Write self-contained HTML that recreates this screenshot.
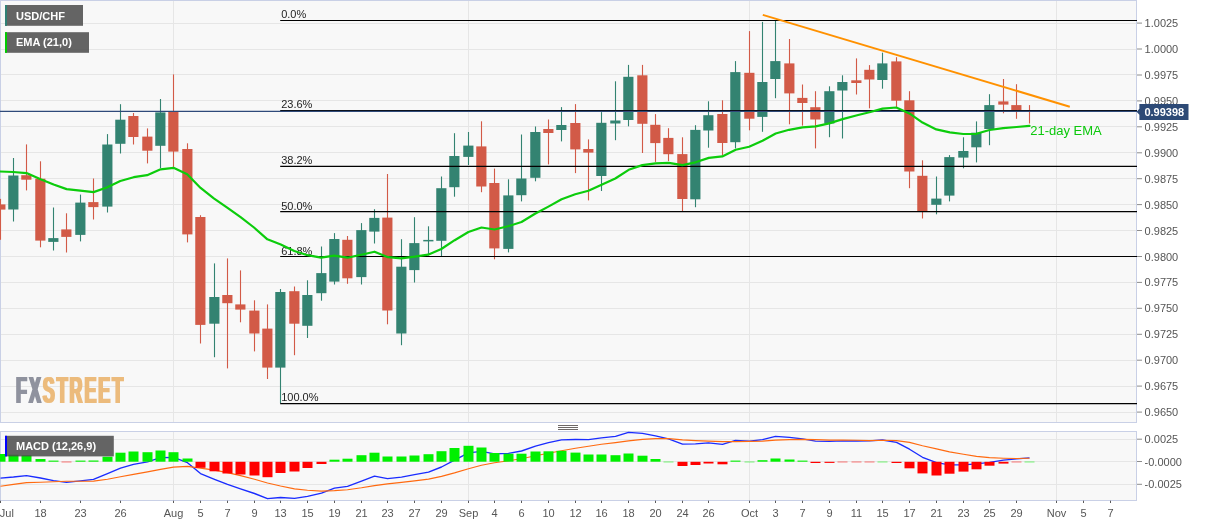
<!DOCTYPE html>
<html><head><meta charset="utf-8"><title>USD/CHF</title>
<style>
html,body{margin:0;padding:0;background:#fff;}
body{width:1207px;height:526px;overflow:hidden;font-family:"Liberation Sans",Arial,sans-serif;}
svg{display:block;}
svg text{font-family:"Liberation Sans",Arial,sans-serif;}
</style></head><body>
<svg width="1207" height="526" viewBox="0 0 1207 526">
<rect x="0" y="0" width="1207" height="526" fill="#ffffff"/>
<rect x="0.5" y="0.5" width="1136" height="422" fill="#f8f8f8" stroke="#c9d0e6" stroke-width="1"/>
<rect x="0.5" y="431.5" width="1136" height="69" fill="#f8f8f8" stroke="#c9d0e6" stroke-width="1"/>
<g stroke="#e6e6e6" stroke-width="1">
<line x1="1" y1="23.5" x2="1136" y2="23.5"/>
<line x1="1" y1="49.5" x2="1136" y2="49.5"/>
<line x1="1" y1="74.5" x2="1136" y2="74.5"/>
<line x1="1" y1="100.5" x2="1136" y2="100.5"/>
<line x1="1" y1="126.5" x2="1136" y2="126.5"/>
<line x1="1" y1="152.5" x2="1136" y2="152.5"/>
<line x1="1" y1="178.5" x2="1136" y2="178.5"/>
<line x1="1" y1="204.5" x2="1136" y2="204.5"/>
<line x1="1" y1="230.5" x2="1136" y2="230.5"/>
<line x1="1" y1="256.5" x2="1136" y2="256.5"/>
<line x1="1" y1="282.5" x2="1136" y2="282.5"/>
<line x1="1" y1="308.5" x2="1136" y2="308.5"/>
<line x1="1" y1="334.5" x2="1136" y2="334.5"/>
<line x1="1" y1="360.5" x2="1136" y2="360.5"/>
<line x1="1" y1="386.5" x2="1136" y2="386.5"/>
<line x1="1" y1="412.5" x2="1136" y2="412.5"/>
<line x1="1" y1="439.5" x2="1136" y2="439.5"/>
<line x1="1" y1="461.5" x2="1136" y2="461.5"/>
<line x1="1" y1="484.5" x2="1136" y2="484.5"/>
<line x1="173.5" y1="1" x2="173.5" y2="422"/>
<line x1="173.5" y1="432" x2="173.5" y2="500"/>
<line x1="468.5" y1="1" x2="468.5" y2="422"/>
<line x1="468.5" y1="432" x2="468.5" y2="500"/>
<line x1="749.5" y1="1" x2="749.5" y2="422"/>
<line x1="749.5" y1="432" x2="749.5" y2="500"/>
<line x1="1056.5" y1="1" x2="1056.5" y2="422"/>
<line x1="1056.5" y1="432" x2="1056.5" y2="500"/>
</g>
<defs><filter id="fat" x="-5%" y="-10%" width="110%" height="120%"><feMorphology operator="dilate" radius="1 0"/></filter></defs>
<g filter="url(#fat)"><text transform="translate(16,402.7) scale(0.49,1)" font-weight="bold" font-size="36.5px" letter-spacing="4" fill="#8f929e">FX<tspan fill="#ecbb7c">STREET</tspan></text></g>
<g>
<rect x="-0.05" y="198.9" width="1.1" height="40.9" fill="#d25a47"/><rect x="-4.75" y="204.4" width="10.2" height="5.2" fill="#d25a47"/>
<rect x="12.95" y="158.0" width="1.1" height="63.5" fill="#338371"/><rect x="8.25" y="175.5" width="10.2" height="34.0" fill="#338371"/>
<rect x="25.95" y="144.4" width="1.1" height="46.0" fill="#d25a47"/><rect x="21.25" y="175.2" width="10.2" height="4.5" fill="#d25a47"/>
<rect x="39.95" y="161.3" width="1.1" height="86.0" fill="#d25a47"/><rect x="35.25" y="178.7" width="10.2" height="61.9" fill="#d25a47"/>
<rect x="52.95" y="207.5" width="1.1" height="43.0" fill="#338371"/><rect x="48.25" y="238.1" width="10.2" height="3.8" fill="#338371"/>
<rect x="65.95" y="213.3" width="1.1" height="39.2" fill="#d25a47"/><rect x="61.25" y="229.4" width="10.2" height="7.5" fill="#d25a47"/>
<rect x="79.95" y="194.6" width="1.1" height="46.8" fill="#338371"/><rect x="75.25" y="202.6" width="10.2" height="32.3" fill="#338371"/>
<rect x="92.95" y="178.5" width="1.1" height="41.0" fill="#d25a47"/><rect x="88.25" y="202.1" width="10.2" height="5.0" fill="#d25a47"/>
<rect x="106.95" y="134.1" width="1.1" height="78.4" fill="#338371"/><rect x="102.25" y="144.5" width="10.2" height="62.1" fill="#338371"/>
<rect x="119.95" y="104.2" width="1.1" height="49.3" fill="#338371"/><rect x="115.25" y="119.7" width="10.2" height="24.1" fill="#338371"/>
<rect x="132.95" y="113.0" width="1.1" height="31.5" fill="#d25a47"/><rect x="128.25" y="116.0" width="10.2" height="21.0" fill="#d25a47"/>
<rect x="146.95" y="128.4" width="1.1" height="35.0" fill="#d25a47"/><rect x="142.25" y="136.6" width="10.2" height="14.1" fill="#d25a47"/>
<rect x="159.95" y="99.0" width="1.1" height="69.1" fill="#338371"/><rect x="155.25" y="112.4" width="10.2" height="33.4" fill="#338371"/>
<rect x="172.95" y="74.4" width="1.1" height="92.5" fill="#d25a47"/><rect x="168.25" y="111.7" width="10.2" height="39.9" fill="#d25a47"/>
<rect x="186.95" y="143.3" width="1.1" height="99.1" fill="#d25a47"/><rect x="182.25" y="149.0" width="10.2" height="85.4" fill="#d25a47"/>
<rect x="199.95" y="215.2" width="1.1" height="128.3" fill="#d25a47"/><rect x="195.25" y="217.0" width="10.2" height="107.9" fill="#d25a47"/>
<rect x="213.95" y="263.4" width="1.1" height="93.8" fill="#338371"/><rect x="209.25" y="297.0" width="10.2" height="26.7" fill="#338371"/>
<rect x="226.95" y="258.4" width="1.1" height="110.0" fill="#d25a47"/><rect x="222.25" y="295.0" width="10.2" height="8.2" fill="#d25a47"/>
<rect x="239.95" y="270.4" width="1.1" height="51.9" fill="#d25a47"/><rect x="235.25" y="304.4" width="10.2" height="5.2" fill="#d25a47"/>
<rect x="253.95" y="300.3" width="1.1" height="51.1" fill="#d25a47"/><rect x="249.25" y="310.6" width="10.2" height="22.9" fill="#d25a47"/>
<rect x="266.95" y="304.4" width="1.1" height="74.6" fill="#d25a47"/><rect x="262.25" y="328.6" width="10.2" height="39.0" fill="#d25a47"/>
<rect x="279.95" y="289.0" width="1.1" height="114.2" fill="#338371"/><rect x="275.25" y="292.0" width="10.2" height="75.6" fill="#338371"/>
<rect x="293.95" y="286.5" width="1.1" height="68.7" fill="#d25a47"/><rect x="289.25" y="291.2" width="10.2" height="32.5" fill="#d25a47"/>
<rect x="306.95" y="280.3" width="1.1" height="57.7" fill="#338371"/><rect x="302.25" y="295.0" width="10.2" height="30.8" fill="#338371"/>
<rect x="320.95" y="246.5" width="1.1" height="54.2" fill="#338371"/><rect x="316.25" y="273.1" width="10.2" height="20.1" fill="#338371"/>
<rect x="333.95" y="233.1" width="1.1" height="51.4" fill="#338371"/><rect x="329.25" y="239.0" width="10.2" height="42.6" fill="#338371"/>
<rect x="346.95" y="236.0" width="1.1" height="47.8" fill="#d25a47"/><rect x="342.25" y="239.8" width="10.2" height="38.5" fill="#d25a47"/>
<rect x="360.95" y="223.1" width="1.1" height="61.4" fill="#338371"/><rect x="356.25" y="230.1" width="10.2" height="47.0" fill="#338371"/>
<rect x="373.95" y="209.2" width="1.1" height="34.3" fill="#338371"/><rect x="369.25" y="217.9" width="10.2" height="13.7" fill="#338371"/>
<rect x="386.95" y="174.0" width="1.1" height="150.3" fill="#d25a47"/><rect x="382.25" y="217.6" width="10.2" height="92.9" fill="#d25a47"/>
<rect x="400.95" y="239.2" width="1.1" height="106.0" fill="#338371"/><rect x="396.25" y="266.7" width="10.2" height="66.8" fill="#338371"/>
<rect x="413.95" y="217.2" width="1.1" height="65.3" fill="#338371"/><rect x="409.25" y="243.1" width="10.2" height="27.0" fill="#338371"/>
<rect x="427.95" y="226.3" width="1.1" height="29.1" fill="#338371"/><rect x="423.25" y="239.9" width="10.2" height="1.5" fill="#338371"/>
<rect x="440.95" y="176.5" width="1.1" height="79.6" fill="#338371"/><rect x="436.25" y="188.2" width="10.2" height="52.6" fill="#338371"/>
<rect x="453.95" y="133.2" width="1.1" height="63.5" fill="#338371"/><rect x="449.25" y="156.0" width="10.2" height="31.2" fill="#338371"/>
<rect x="467.95" y="132.0" width="1.1" height="33.0" fill="#338371"/><rect x="463.25" y="145.6" width="10.2" height="11.3" fill="#338371"/>
<rect x="480.95" y="121.3" width="1.1" height="70.9" fill="#d25a47"/><rect x="476.25" y="146.4" width="10.2" height="40.1" fill="#d25a47"/>
<rect x="493.95" y="168.6" width="1.1" height="90.7" fill="#d25a47"/><rect x="489.25" y="183.0" width="10.2" height="65.4" fill="#d25a47"/>
<rect x="507.95" y="179.3" width="1.1" height="73.1" fill="#338371"/><rect x="503.25" y="195.4" width="10.2" height="53.5" fill="#338371"/>
<rect x="520.95" y="134.5" width="1.1" height="66.9" fill="#338371"/><rect x="516.25" y="178.5" width="10.2" height="16.7" fill="#338371"/>
<rect x="534.95" y="126.5" width="1.1" height="54.8" fill="#338371"/><rect x="530.25" y="132.0" width="10.2" height="45.8" fill="#338371"/>
<rect x="547.95" y="119.5" width="1.1" height="44.9" fill="#d25a47"/><rect x="543.25" y="129.0" width="10.2" height="4.0" fill="#d25a47"/>
<rect x="560.95" y="107.1" width="1.1" height="34.3" fill="#338371"/><rect x="556.25" y="125.0" width="10.2" height="5.0" fill="#338371"/>
<rect x="574.95" y="104.1" width="1.1" height="69.0" fill="#d25a47"/><rect x="570.25" y="123.0" width="10.2" height="26.4" fill="#d25a47"/>
<rect x="587.95" y="139.4" width="1.1" height="61.0" fill="#d25a47"/><rect x="583.25" y="149.0" width="10.2" height="3.6" fill="#d25a47"/>
<rect x="600.95" y="112.1" width="1.1" height="78.9" fill="#338371"/><rect x="596.25" y="122.8" width="10.2" height="53.2" fill="#338371"/>
<rect x="614.95" y="81.3" width="1.1" height="58.9" fill="#338371"/><rect x="610.25" y="120.5" width="10.2" height="3.0" fill="#338371"/>
<rect x="627.95" y="64.9" width="1.1" height="61.4" fill="#338371"/><rect x="623.25" y="76.8" width="10.2" height="43.2" fill="#338371"/>
<rect x="641.95" y="64.9" width="1.1" height="88.1" fill="#d25a47"/><rect x="637.25" y="75.3" width="10.2" height="48.5" fill="#d25a47"/>
<rect x="654.95" y="114.1" width="1.1" height="47.8" fill="#d25a47"/><rect x="650.25" y="124.8" width="10.2" height="18.3" fill="#d25a47"/>
<rect x="667.95" y="128.2" width="1.1" height="32.9" fill="#d25a47"/><rect x="663.25" y="137.9" width="10.2" height="16.3" fill="#d25a47"/>
<rect x="681.95" y="137.3" width="1.1" height="74.7" fill="#d25a47"/><rect x="677.25" y="154.1" width="10.2" height="44.9" fill="#d25a47"/>
<rect x="694.95" y="125.2" width="1.1" height="82.0" fill="#338371"/><rect x="690.25" y="129.9" width="10.2" height="69.4" fill="#338371"/>
<rect x="707.95" y="101.3" width="1.1" height="46.4" fill="#338371"/><rect x="703.25" y="115.2" width="10.2" height="15.3" fill="#338371"/>
<rect x="721.95" y="100.3" width="1.1" height="54.8" fill="#d25a47"/><rect x="717.25" y="114.0" width="10.2" height="29.0" fill="#d25a47"/>
<rect x="734.95" y="61.1" width="1.1" height="87.3" fill="#338371"/><rect x="730.25" y="72.1" width="10.2" height="70.1" fill="#338371"/>
<rect x="748.95" y="31.1" width="1.1" height="99.2" fill="#d25a47"/><rect x="744.25" y="72.8" width="10.2" height="45.9" fill="#d25a47"/>
<rect x="761.95" y="21.9" width="1.1" height="109.9" fill="#338371"/><rect x="757.25" y="82.0" width="10.2" height="34.9" fill="#338371"/>
<rect x="774.95" y="20.4" width="1.1" height="77.8" fill="#338371"/><rect x="770.25" y="61.1" width="10.2" height="17.9" fill="#338371"/>
<rect x="788.95" y="39.0" width="1.1" height="85.3" fill="#d25a47"/><rect x="784.25" y="63.4" width="10.2" height="30.0" fill="#d25a47"/>
<rect x="801.95" y="84.5" width="1.1" height="41.1" fill="#d25a47"/><rect x="797.25" y="97.9" width="10.2" height="5.1" fill="#d25a47"/>
<rect x="814.95" y="91.2" width="1.1" height="57.2" fill="#d25a47"/><rect x="810.25" y="107.2" width="10.2" height="12.3" fill="#d25a47"/>
<rect x="828.95" y="86.3" width="1.1" height="50.9" fill="#338371"/><rect x="824.25" y="91.2" width="10.2" height="32.3" fill="#338371"/>
<rect x="841.95" y="75.3" width="1.1" height="63.2" fill="#338371"/><rect x="837.25" y="82.0" width="10.2" height="8.5" fill="#338371"/>
<rect x="855.95" y="58.4" width="1.1" height="36.1" fill="#d25a47"/><rect x="851.25" y="80.3" width="10.2" height="2.7" fill="#d25a47"/>
<rect x="868.95" y="65.1" width="1.1" height="43.2" fill="#d25a47"/><rect x="864.25" y="69.8" width="10.2" height="9.7" fill="#d25a47"/>
<rect x="881.95" y="52.7" width="1.1" height="36.0" fill="#338371"/><rect x="877.25" y="63.4" width="10.2" height="16.6" fill="#338371"/>
<rect x="895.95" y="57.2" width="1.1" height="49.7" fill="#d25a47"/><rect x="891.25" y="61.4" width="10.2" height="39.3" fill="#d25a47"/>
<rect x="908.95" y="91.2" width="1.1" height="97.0" fill="#d25a47"/><rect x="904.25" y="100.3" width="10.2" height="71.2" fill="#d25a47"/>
<rect x="921.95" y="160.3" width="1.1" height="58.2" fill="#d25a47"/><rect x="917.25" y="175.8" width="10.2" height="35.2" fill="#d25a47"/>
<rect x="935.95" y="176.5" width="1.1" height="37.8" fill="#338371"/><rect x="931.25" y="198.6" width="10.2" height="6.2" fill="#338371"/>
<rect x="948.95" y="155.1" width="1.1" height="46.3" fill="#338371"/><rect x="944.25" y="157.1" width="10.2" height="38.5" fill="#338371"/>
<rect x="962.95" y="137.3" width="1.1" height="31.0" fill="#338371"/><rect x="958.25" y="151.0" width="10.2" height="6.6" fill="#338371"/>
<rect x="975.95" y="121.4" width="1.1" height="41.0" fill="#338371"/><rect x="971.25" y="132.7" width="10.2" height="14.6" fill="#338371"/>
<rect x="988.95" y="94.2" width="1.1" height="51.0" fill="#338371"/><rect x="984.25" y="105.1" width="10.2" height="23.9" fill="#338371"/>
<rect x="1002.95" y="79.0" width="1.1" height="34.3" fill="#d25a47"/><rect x="998.25" y="101.4" width="10.2" height="3.2" fill="#d25a47"/>
<rect x="1015.95" y="84.2" width="1.1" height="34.6" fill="#d25a47"/><rect x="1011.25" y="105.1" width="10.2" height="4.9" fill="#d25a47"/>
<rect x="1028.95" y="105.1" width="1.1" height="18.4" fill="#d25a47"/><rect x="1024.25" y="110.4" width="10.2" height="0.8" fill="#d25a47"/>
</g>
<g stroke="#000" stroke-width="1.2">
<line x1="280.2" y1="20.5" x2="1137" y2="20.5"/>
<line x1="280.2" y1="110.6" x2="1137" y2="110.6"/>
<line x1="280.2" y1="166.4" x2="1137" y2="166.4"/>
<line x1="280.2" y1="211.6" x2="1137" y2="211.6"/>
<line x1="280.2" y1="256.5" x2="1137" y2="256.5"/>
<line x1="280.2" y1="403.6" x2="1137" y2="403.6"/>
</g>
<g font-size="11px" fill="#222">
<text x="281.2" y="18">0.0%</text>
<text x="281.2" y="108">23.6%</text>
<text x="281.2" y="164">38.2%</text>
<text x="281.2" y="210">50.0%</text>
<text x="281.2" y="255">61.8%</text>
<text x="281.2" y="401">100.0%</text>
</g>
<line x1="0" y1="111.4" x2="1137" y2="111.4" stroke="#2f4a7a" stroke-width="1.2"/>
<polyline points="0,171.5 13.2,172 26.5,173.1 40.6,179.3 53.6,184.5 66.6,189.1 80.3,190.7 93.5,192.1 106.8,187.5 120.3,181 133.7,177.2 147.1,175.2 160.6,169.3 173.5,167.8 187.2,174.2 200.6,187.9 213.8,198.4 227.2,207.6 240.6,217.2 254,227.5 267.4,239.3 280.8,244.5 294.3,251 307.6,255.2 321,257.7 334.2,255.7 347.6,257.7 361.3,254.7 374.5,251.7 387.9,257.2 401.3,258.3 414.7,256.7 428.1,254.7 441.3,249 454.7,240.2 468.4,232 481.5,227.5 494.5,229.5 508,226.3 521.5,222 535,213.8 548.4,206.6 561.6,199.2 575.2,194.2 588.4,190.7 601.6,184.7 615.3,178.5 628.7,169.8 642.3,165.1 655.5,163.4 668.7,162.9 682.4,165.1 695.5,162.3 708.8,157.9 722.3,156.4 735.7,149.7 749.1,146.7 762.5,140.7 775.7,133.5 789.1,129.8 802.5,127.3 815.7,126.4 829.2,123.4 842.6,119.1 856.2,115.5 869.4,112.3 882.6,108.6 896.3,107.5 909.4,113.4 922.5,122.6 936.3,129.4 949.8,132.4 963.2,134 976.4,133.8 989.5,130 1003.2,128.2 1016.6,127 1029.5,125.8" fill="none" stroke="#0ccc0c" stroke-width="2.2" stroke-linejoin="round" stroke-linecap="round"/>
<text x="1030.2" y="135" font-size="13px" fill="#0cc80c">21-day EMA</text>
<line x1="762.8" y1="14.9" x2="1069.8" y2="106.7" stroke="#ff9100" stroke-width="2" stroke-linecap="butt"/>
<polyline points="0.5,478.1 13.5,477 26.5,475.6 40.5,478 53.5,480.6 66.5,482.3 80.5,480.8 93.5,479.3 107.5,473.6 120.5,468.1 133.5,464.4 147.5,461.9 160.5,457.7 173.5,457.4 187.5,462.7 200.5,473.6 214.5,479.3 227.5,484.3 240.5,488.8 254.5,493.5 267.5,498.7 280.5,497.5 294.5,498.4 307.5,496.3 321.5,493.1 334.5,488.1 347.5,486.3 361.5,481.1 374.5,476.2 387.5,478.6 401.5,477.1 414.5,474.7 428.5,472.2 441.5,467 454.5,460.2 468.5,452.8 481.5,451.3 494.5,453.8 508.5,453.3 521.5,451 535.5,446.1 548.5,442.6 561.5,439.8 575.5,439.5 588.5,439.6 601.5,437.9 615.5,436.4 628.5,432.4 642.5,433.4 655.5,435.9 668.5,438.9 682.5,444.1 695.5,443.8 708.5,442.8 722.5,444.3 735.5,440.4 749.5,441.1 762.5,439.6 775.5,436.4 789.5,437.4 802.5,438.9 815.5,441.1 829.5,441.4 842.5,440.9 856.5,441 869.5,440.9 882.5,440 896.5,442.4 909.5,449.2 922.5,457.3 936.5,462.7 949.5,464.8 963.5,464.8 976.5,463.8 989.5,462.3 1003.5,460.1 1016.5,458.8 1029.5,457.8" fill="none" stroke="#1a2cff" stroke-width="1.35" stroke-linejoin="round"/>
<polyline points="0.5,486.3 13.5,484.4 26.5,482.6 40.5,482.2 53.5,481.8 66.5,481.3 80.5,481.2 93.5,481.1 107.5,479.3 120.5,476.8 133.5,474.4 147.5,471.9 160.5,469.4 173.5,467.1 187.5,466.4 200.5,468.1 214.5,470.1 227.5,472.6 240.5,475.6 254.5,479.3 267.5,483 280.5,486 294.5,488.9 307.5,490.3 321.5,491.1 334.5,490.6 347.5,489.8 361.5,487.8 374.5,485.6 387.5,483.9 401.5,482.4 414.5,480.9 428.5,479.1 441.5,476.4 454.5,472.9 468.5,468.7 481.5,465.2 494.5,462.7 508.5,460.7 521.5,458.8 535.5,455.8 548.5,453.3 561.5,450.8 575.5,448.3 588.5,446.3 601.5,444.3 615.5,442.6 628.5,440.9 642.5,439.4 655.5,438.6 668.5,438.6 682.5,439.9 695.5,440.6 708.5,441.1 722.5,441.6 735.5,441.6 749.5,441.4 762.5,441.1 775.5,440.1 789.5,439.6 802.5,439.4 815.5,439.6 829.5,440.1 842.5,440.1 856.5,440.3 869.5,440.6 882.5,440.3 896.5,440.6 909.5,442.4 922.5,445.7 936.5,448.9 949.5,451.9 963.5,454.3 976.5,456.4 989.5,457.6 1003.5,458.2 1016.5,458.5 1029.5,458.2" fill="none" stroke="#ff6a10" stroke-width="1.15" stroke-linejoin="round"/>
<g>
<rect x="-4.50" y="454.0" width="10" height="7.7" fill="#00f000"/>
<rect x="8.50" y="454.7" width="10" height="7.0" fill="#00f000"/>
<rect x="21.50" y="455.2" width="10" height="6.5" fill="#00f000"/>
<rect x="35.50" y="459.0" width="10" height="2.7" fill="#00f000"/>
<rect x="48.50" y="460.6" width="10" height="1.1" fill="#00f000"/>
<rect x="61.50" y="461.2" width="10" height="1.5" fill="#ff0000" opacity="0.35"/>
<rect x="75.50" y="460.6" width="10" height="1.1" fill="#00f000"/>
<rect x="88.50" y="460.5" width="10" height="1.2" fill="#00f000"/>
<rect x="102.50" y="456.7" width="10" height="5.0" fill="#00f000"/>
<rect x="115.50" y="452.7" width="10" height="9.0" fill="#00f000"/>
<rect x="128.50" y="451.5" width="10" height="10.2" fill="#00f000"/>
<rect x="142.50" y="452.2" width="10" height="9.5" fill="#00f000"/>
<rect x="155.50" y="450.5" width="10" height="11.2" fill="#00f000"/>
<rect x="168.50" y="452.2" width="10" height="9.5" fill="#00f000"/>
<rect x="182.50" y="458.5" width="10" height="3.2" fill="#00f000"/>
<rect x="195.50" y="461.8" width="10" height="6.0" fill="#ff0000"/>
<rect x="209.50" y="461.8" width="10" height="9.5" fill="#ff0000"/>
<rect x="222.50" y="461.8" width="10" height="11.7" fill="#ff0000"/>
<rect x="235.50" y="461.8" width="10" height="12.7" fill="#ff0000"/>
<rect x="249.50" y="461.8" width="10" height="13.7" fill="#ff0000"/>
<rect x="262.50" y="461.8" width="10" height="15.4" fill="#ff0000"/>
<rect x="275.50" y="461.8" width="10" height="11.2" fill="#ff0000"/>
<rect x="289.50" y="461.8" width="10" height="9.7" fill="#ff0000"/>
<rect x="302.50" y="461.8" width="10" height="6.2" fill="#ff0000"/>
<rect x="316.50" y="461.8" width="10" height="2.2" fill="#ff0000"/>
<rect x="329.50" y="459.7" width="10" height="2.0" fill="#00f000"/>
<rect x="342.50" y="458.7" width="10" height="3.0" fill="#00f000"/>
<rect x="356.50" y="455.2" width="10" height="6.5" fill="#00f000"/>
<rect x="369.50" y="452.7" width="10" height="9.0" fill="#00f000"/>
<rect x="382.50" y="456.5" width="10" height="5.2" fill="#00f000"/>
<rect x="396.50" y="456.5" width="10" height="5.2" fill="#00f000"/>
<rect x="409.50" y="455.5" width="10" height="6.2" fill="#00f000"/>
<rect x="423.50" y="454.2" width="10" height="7.5" fill="#00f000"/>
<rect x="436.50" y="451.2" width="10" height="10.5" fill="#00f000"/>
<rect x="449.50" y="448.0" width="10" height="13.7" fill="#00f000"/>
<rect x="463.50" y="445.8" width="10" height="15.9" fill="#00f000"/>
<rect x="476.50" y="447.5" width="10" height="14.2" fill="#00f000"/>
<rect x="489.50" y="453.0" width="10" height="8.7" fill="#00f000"/>
<rect x="503.50" y="453.7" width="10" height="8.0" fill="#00f000"/>
<rect x="516.50" y="453.7" width="10" height="8.0" fill="#00f000"/>
<rect x="530.50" y="451.5" width="10" height="10.2" fill="#00f000"/>
<rect x="543.50" y="451.3" width="10" height="10.4" fill="#00f000"/>
<rect x="556.50" y="450.8" width="10" height="10.9" fill="#00f000"/>
<rect x="570.50" y="452.6" width="10" height="9.1" fill="#00f000"/>
<rect x="583.50" y="454.5" width="10" height="7.2" fill="#00f000"/>
<rect x="596.50" y="454.5" width="10" height="7.2" fill="#00f000"/>
<rect x="610.50" y="455.2" width="10" height="6.5" fill="#00f000"/>
<rect x="623.50" y="453.5" width="10" height="8.2" fill="#00f000"/>
<rect x="637.50" y="455.7" width="10" height="6.0" fill="#00f000"/>
<rect x="650.50" y="459.0" width="10" height="2.7" fill="#00f000"/>
<rect x="663.50" y="461.2" width="10" height="1.5" fill="#00f000" opacity="0.35"/>
<rect x="677.50" y="461.8" width="10" height="4.2" fill="#ff0000"/>
<rect x="690.50" y="461.8" width="10" height="3.2" fill="#ff0000"/>
<rect x="703.50" y="461.8" width="10" height="1.7" fill="#ff0000"/>
<rect x="717.50" y="461.8" width="10" height="2.5" fill="#ff0000"/>
<rect x="730.50" y="460.6" width="10" height="1.1" fill="#00f000"/>
<rect x="744.50" y="461.2" width="10" height="1.5" fill="#00f000" opacity="0.35"/>
<rect x="757.50" y="460.2" width="10" height="1.5" fill="#00f000"/>
<rect x="770.50" y="458.5" width="10" height="3.2" fill="#00f000"/>
<rect x="784.50" y="459.5" width="10" height="2.2" fill="#00f000"/>
<rect x="797.50" y="460.6" width="10" height="1.1" fill="#00f000"/>
<rect x="810.50" y="461.8" width="10" height="1.2" fill="#ff0000"/>
<rect x="824.50" y="461.8" width="10" height="1.1" fill="#ff0000"/>
<rect x="837.50" y="461.2" width="10" height="1.5" fill="#ff0000" opacity="0.35"/>
<rect x="851.50" y="461.2" width="10" height="1.5" fill="#ff0000" opacity="0.35"/>
<rect x="864.50" y="461.2" width="10" height="1.5" fill="#ff0000" opacity="0.35"/>
<rect x="877.50" y="461.2" width="10" height="1.5" fill="#00f000" opacity="0.35"/>
<rect x="891.50" y="461.8" width="10" height="1.2" fill="#ff0000"/>
<rect x="904.50" y="461.8" width="10" height="6.5" fill="#ff0000"/>
<rect x="917.50" y="461.8" width="10" height="11.6" fill="#ff0000"/>
<rect x="931.50" y="461.8" width="10" height="13.7" fill="#ff0000"/>
<rect x="944.50" y="461.8" width="10" height="11.9" fill="#ff0000"/>
<rect x="958.50" y="461.8" width="10" height="9.8" fill="#ff0000"/>
<rect x="971.50" y="461.8" width="10" height="7.5" fill="#ff0000"/>
<rect x="984.50" y="461.8" width="10" height="3.9" fill="#ff0000"/>
<rect x="998.50" y="461.8" width="10" height="1.8" fill="#ff0000"/>
<rect x="1011.50" y="461.2" width="10" height="1.5" fill="#ff0000" opacity="0.35"/>
<rect x="1024.50" y="461.2" width="10" height="1.5" fill="#00f000" opacity="0.35"/>
</g>
<g stroke="#6e6866" stroke-width="1"><line x1="558" y1="425.5" x2="578" y2="425.5"/><line x1="558" y1="427.5" x2="578" y2="427.5"/><line x1="558" y1="429.5" x2="578" y2="429.5"/></g>
<rect x="5" y="5" width="78" height="20.8" fill="#4a4a4a" opacity="0.85"/><rect x="5" y="5" width="2" height="20.8" fill="#2f8075"/><text x="16" y="20" font-size="11px" font-weight="bold" fill="#fff">USD/CHF</text>
<rect x="5" y="32.2" width="84" height="20.6" fill="#4a4a4a" opacity="0.85"/><rect x="5" y="32.2" width="2" height="20.6" fill="#00cc00"/><text x="16" y="45.7" font-size="11px" font-weight="bold" fill="#fff">EMA (21,0)</text>
<rect x="5" y="435.8" width="108.8" height="20.6" fill="#4a4a4a" opacity="0.85"/><rect x="5" y="435.8" width="2" height="20.6" fill="#0000ff"/><text x="16" y="449.8" font-size="11px" font-weight="bold" fill="#fff">MACD (12,26,9)</text>
<g stroke="#8c8c8c" stroke-width="1">
<line x1="1137" y1="23.1" x2="1142" y2="23.1"/>
<line x1="1137" y1="49.0" x2="1142" y2="49.0"/>
<line x1="1137" y1="75.0" x2="1142" y2="75.0"/>
<line x1="1137" y1="100.9" x2="1142" y2="100.9"/>
<line x1="1137" y1="126.8" x2="1142" y2="126.8"/>
<line x1="1137" y1="152.8" x2="1142" y2="152.8"/>
<line x1="1137" y1="178.7" x2="1142" y2="178.7"/>
<line x1="1137" y1="204.6" x2="1142" y2="204.6"/>
<line x1="1137" y1="230.5" x2="1142" y2="230.5"/>
<line x1="1137" y1="256.5" x2="1142" y2="256.5"/>
<line x1="1137" y1="282.4" x2="1142" y2="282.4"/>
<line x1="1137" y1="308.3" x2="1142" y2="308.3"/>
<line x1="1137" y1="334.3" x2="1142" y2="334.3"/>
<line x1="1137" y1="360.2" x2="1142" y2="360.2"/>
<line x1="1137" y1="386.1" x2="1142" y2="386.1"/>
<line x1="1137" y1="412.1" x2="1142" y2="412.1"/>
<line x1="1137" y1="439.2" x2="1142" y2="439.2"/>
<line x1="1137" y1="461.5" x2="1142" y2="461.5"/>
<line x1="1137" y1="484.3" x2="1142" y2="484.3"/>
</g>
<g stroke="#5a5a5a" stroke-width="1">
<line x1="0.5" y1="500.7" x2="0.5" y2="503"/>
<line x1="40.5" y1="500.7" x2="40.5" y2="503"/>
<line x1="80.5" y1="500.7" x2="80.5" y2="503"/>
<line x1="120.5" y1="500.7" x2="120.5" y2="503"/>
<line x1="173.5" y1="500.7" x2="173.5" y2="503"/>
<line x1="200.5" y1="500.7" x2="200.5" y2="503"/>
<line x1="227.5" y1="500.7" x2="227.5" y2="503"/>
<line x1="254.5" y1="500.7" x2="254.5" y2="503"/>
<line x1="280.5" y1="500.7" x2="280.5" y2="503"/>
<line x1="307.5" y1="500.7" x2="307.5" y2="503"/>
<line x1="334.5" y1="500.7" x2="334.5" y2="503"/>
<line x1="361.5" y1="500.7" x2="361.5" y2="503"/>
<line x1="387.5" y1="500.7" x2="387.5" y2="503"/>
<line x1="414.5" y1="500.7" x2="414.5" y2="503"/>
<line x1="441.5" y1="500.7" x2="441.5" y2="503"/>
<line x1="468.5" y1="500.7" x2="468.5" y2="503"/>
<line x1="494.5" y1="500.7" x2="494.5" y2="503"/>
<line x1="521.5" y1="500.7" x2="521.5" y2="503"/>
<line x1="548.5" y1="500.7" x2="548.5" y2="503"/>
<line x1="575.5" y1="500.7" x2="575.5" y2="503"/>
<line x1="601.5" y1="500.7" x2="601.5" y2="503"/>
<line x1="628.5" y1="500.7" x2="628.5" y2="503"/>
<line x1="655.5" y1="500.7" x2="655.5" y2="503"/>
<line x1="682.5" y1="500.7" x2="682.5" y2="503"/>
<line x1="708.5" y1="500.7" x2="708.5" y2="503"/>
<line x1="749.5" y1="500.7" x2="749.5" y2="503"/>
<line x1="775.5" y1="500.7" x2="775.5" y2="503"/>
<line x1="802.5" y1="500.7" x2="802.5" y2="503"/>
<line x1="829.5" y1="500.7" x2="829.5" y2="503"/>
<line x1="856.5" y1="500.7" x2="856.5" y2="503"/>
<line x1="882.5" y1="500.7" x2="882.5" y2="503"/>
<line x1="909.5" y1="500.7" x2="909.5" y2="503"/>
<line x1="936.5" y1="500.7" x2="936.5" y2="503"/>
<line x1="963.5" y1="500.7" x2="963.5" y2="503"/>
<line x1="989.5" y1="500.7" x2="989.5" y2="503"/>
<line x1="1016.5" y1="500.7" x2="1016.5" y2="503"/>
<line x1="1056.5" y1="500.7" x2="1056.5" y2="503"/>
<line x1="1083.5" y1="500.7" x2="1083.5" y2="503"/>
<line x1="1110.5" y1="500.7" x2="1110.5" y2="503"/>
</g>
<g font-size="11px" fill="#555">
<text x="1144.6" y="27.1">1.0025</text>
<text x="1144.6" y="53.0">1.0000</text>
<text x="1144.6" y="79.0">0.9975</text>
<text x="1144.6" y="104.9">0.9950</text>
<text x="1144.6" y="130.8">0.9925</text>
<text x="1144.6" y="156.8">0.9900</text>
<text x="1144.6" y="182.7">0.9875</text>
<text x="1144.6" y="208.6">0.9850</text>
<text x="1144.6" y="234.5">0.9825</text>
<text x="1144.6" y="260.5">0.9800</text>
<text x="1144.6" y="286.4">0.9775</text>
<text x="1144.6" y="312.3">0.9750</text>
<text x="1144.6" y="338.3">0.9725</text>
<text x="1144.6" y="364.2">0.9700</text>
<text x="1144.6" y="390.1">0.9675</text>
<text x="1144.6" y="416.1">0.9650</text>
<text x="1144.6" y="443.2">0.0025</text>
<text x="1144.6" y="465.5">-0.0000</text>
<text x="1144.6" y="488.3">-0.0025</text>
</g>
<g font-size="11px" fill="#555" text-anchor="middle">
<text x="-0.2" y="516.8" text-anchor="start">Jul</text>
<text x="40.5" y="516.8">18</text>
<text x="80.5" y="516.8">23</text>
<text x="120.5" y="516.8">26</text>
<text x="173.5" y="516.8">Aug</text>
<text x="200.5" y="516.8">5</text>
<text x="227.5" y="516.8">7</text>
<text x="254.5" y="516.8">9</text>
<text x="280.5" y="516.8">13</text>
<text x="307.5" y="516.8">15</text>
<text x="334.5" y="516.8">19</text>
<text x="361.5" y="516.8">21</text>
<text x="387.5" y="516.8">23</text>
<text x="414.5" y="516.8">27</text>
<text x="441.5" y="516.8">29</text>
<text x="468.5" y="516.8">Sep</text>
<text x="494.5" y="516.8">4</text>
<text x="521.5" y="516.8">6</text>
<text x="548.5" y="516.8">10</text>
<text x="575.5" y="516.8">12</text>
<text x="601.5" y="516.8">16</text>
<text x="628.5" y="516.8">18</text>
<text x="655.5" y="516.8">20</text>
<text x="682.5" y="516.8">24</text>
<text x="708.5" y="516.8">26</text>
<text x="749.5" y="516.8">Oct</text>
<text x="775.5" y="516.8">3</text>
<text x="802.5" y="516.8">7</text>
<text x="829.5" y="516.8">9</text>
<text x="856.5" y="516.8">11</text>
<text x="882.5" y="516.8">15</text>
<text x="909.5" y="516.8">17</text>
<text x="936.5" y="516.8">21</text>
<text x="963.5" y="516.8">23</text>
<text x="989.5" y="516.8">25</text>
<text x="1016.5" y="516.8">29</text>
<text x="1056.5" y="516.8">Nov</text>
<text x="1083.5" y="516.8">5</text>
<text x="1110.5" y="516.8">7</text>
</g>
<path d="M1136.6 111.8 L1139.4 108.8 L1139.4 104 L1188.5 104 L1188.5 119.9 L1139.4 119.9 L1139.4 114.8 Z" fill="#2d4a76"/>
<text x="1144.4" y="116" font-size="11px" font-weight="bold" fill="#fff">0.99398</text>
</svg>
</body></html>
